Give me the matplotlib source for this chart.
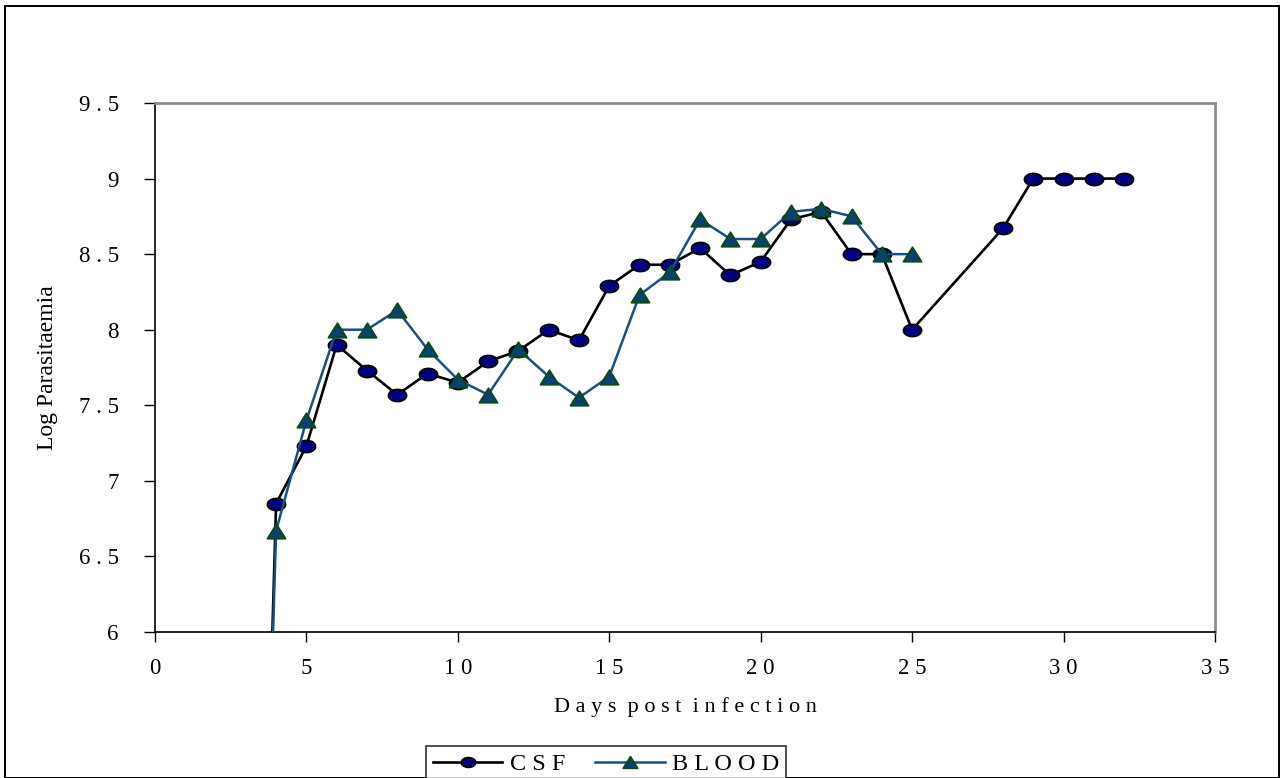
import matplotlib
matplotlib.use("Agg")
import matplotlib.pyplot as plt
from matplotlib.path import Path
from matplotlib.patches import Rectangle
import numpy as np

# data (day 3 is below the axis, so it is clipped)
csf_days = [3, 4, 5, 6, 7, 8, 9, 10, 11, 12, 13, 14, 15, 16, 17, 18, 19, 20,
            21, 22, 23, 24, 25, 28, 29, 30, 31, 32]
csf_vals = [0.0, 6.85, 7.23, 7.90, 7.73, 7.57, 7.71, 7.65, 7.79, 7.86, 8.00,
            7.93, 8.29, 8.43, 8.43, 8.54, 8.36, 8.45, 8.73, 8.78, 8.50, 8.50,
            8.00, 8.67, 9.00, 9.00, 9.00, 9.00]

blood_days = [3, 4, 5, 6, 7, 8, 9, 10, 11, 12, 13, 14, 15, 16, 17, 18, 19, 20,
              21, 22, 23, 24, 25]
blood_vals = [0.0, 6.67, 7.40, 8.00, 8.00, 8.13, 7.87, 7.67, 7.57, 7.87, 7.69,
              7.55, 7.69, 8.23, 8.38, 8.73, 8.60, 8.60, 8.78, 8.80, 8.75, 8.50,
              8.50]

x_ticks = [0, 5, 10, 15, 20, 25, 30, 35]
x_labels = ["0", "5", "1 0", "1 5", "2 0", "2 5", "3 0", "3 5"]
y_ticks = [6, 6.5, 7, 7.5, 8, 8.5, 9, 9.5]
y_labels = ["6", "6 . 5", "7", "7 . 5", "8", "8 . 5", "9", "9 . 5"]

plt.rcParams["font.family"] = ["Liberation Serif", "DejaVu Serif"]

fig = plt.figure(figsize=(12.85, 7.78), dpi=100)
ax = fig.add_axes([0.1206, 0.1877, 0.8249, 0.6799])

# wide ellipse marker like the Excel circles
t = np.linspace(0, 2 * np.pi, 60)
ellipse = Path(np.column_stack([1.5 * np.cos(t), np.sin(t)]), closed=True)
tri = Path([(0, 0.8), (-1, -0.8), (1, -0.8), (0, 0.8)], closed=True)

ax.plot(csf_days, csf_vals, color="black", lw=1.9, marker=ellipse,
        markersize=13, markerfacecolor="#000080", markeredgecolor="black",
        markeredgewidth=1.3, label="C S F", zorder=3)
ax.plot(blood_days, blood_vals, color="#1c4f80", lw=1.8, marker=tri,
        markersize=13, markerfacecolor="#0c4070", markeredgecolor="#0b4a10",
        markeredgewidth=1.3, label="B L O O D", zorder=4)

ax.set_xlim(0, 35)
ax.set_ylim(6, 9.5)
ax.set_xticks(x_ticks)
ax.set_xticklabels(x_labels)
ax.set_yticks(y_ticks)
ax.set_yticklabels(y_labels)
ax.tick_params(axis="x", direction="out", length=7, width=1, pad=12,
               labelsize=16.5)
ax.tick_params(axis="y", direction="out", length=8, width=1, pad=18,
               labelsize=16.5)

for side in ("left", "bottom"):
    ax.spines[side].set_color("black")
    ax.spines[side].set_linewidth(1.2)
for side in ("top", "right"):
    ax.spines[side].set_color("#8c8c8c")
    ax.spines[side].set_linewidth(2)

ax.set_xlabel("D a y s  p o s t  i n f e c t i o n", fontsize=16,
              labelpad=13)
ax.set_ylabel("Log Parasitaemia", fontsize=17, labelpad=15)

leg = fig.legend(loc="upper center", bbox_to_anchor=(0.4716, 0.041),
                 ncol=2, fontsize=17.5, frameon=True, fancybox=False,
                 borderaxespad=0, handlelength=2.85, handletextpad=0.3,
                 columnspacing=1.25, borderpad=0.3, markerscale=0.8)
leg.get_frame().set_edgecolor("black")
leg.get_frame().set_linewidth(1.2)

# outer chart border
fig.patches.append(Rectangle((0.004, 0.0), 0.991, 0.992,
                             transform=fig.transFigure, fill=False,
                             edgecolor="black", linewidth=1.4))

fig.savefig("out.png", dpi=100)
